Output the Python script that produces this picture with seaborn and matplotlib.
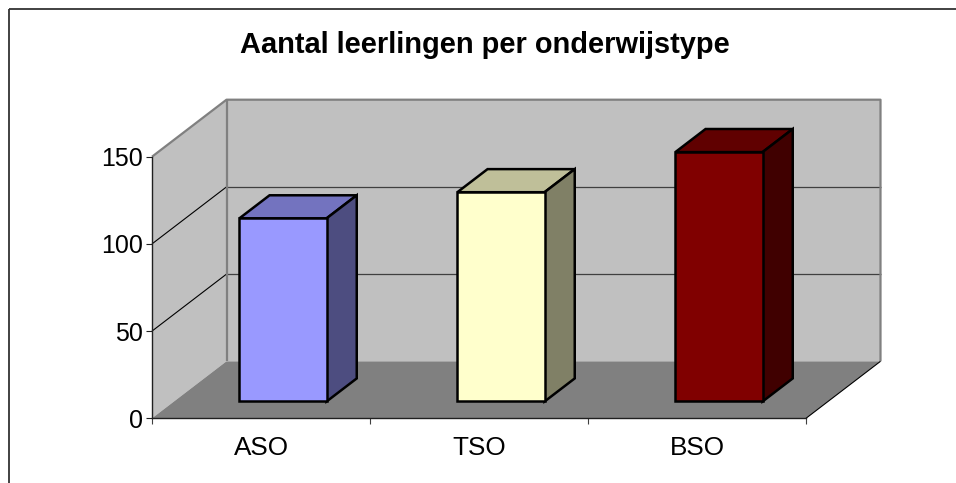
import matplotlib
matplotlib.use("Agg")
import matplotlib.pyplot as plt
import seaborn as sns
from matplotlib.lines import Line2D
from matplotlib.patches import Polygon
from matplotlib.transforms import Affine2D

categories = ["ASO", "TSO", "BSO"]
values = [105, 120, 143]
front_colors = ["#9999FF", "#FFFFCC", "#800000"]
top_colors = ["#7373BF", "#BFBF99", "#600000"]
side_colors = ["#4D4D80", "#808066", "#400000"]
y_ticks = [0, 50, 100, 150]
title = "Aantal leerlingen per onderwijstype"

sns.set_style("white")
plt.rcParams["font.family"] = ["Liberation Sans", "DejaVu Sans"]

W, H = 956, 483
fig = plt.figure(figsize=(W / 100, H / 100), dpi=100, facecolor="white")
ax = fig.add_axes([152 / W, (H - 418.3) / H, 654 / W, 261.6 / H])
ax.set_facecolor("none")

# depth of the fake 3d box, in data units
DX = 74.5 / 218
DY = 57 / 1.744
BAR_FRONT = 0.295
BAR_BACK = 0.70


def poly(pts, **kw):
    p = Polygon(pts, closed=True, clip_on=False, **kw)
    ax.add_patch(p)
    return p


def line(xs, ys, **kw):
    ax.plot(xs, ys, clip_on=False, solid_capstyle="butt", **kw)


sns.barplot(x=categories, y=values, hue=categories, palette=front_colors,
            width=0.4, saturation=1, edgecolor="black", linewidth=1.8,
            legend=False, zorder=5, ax=ax)

x0, x1 = -0.5, 2.5
y0, y1 = 0, 150
ax.set_xlim(x0, x1)
ax.set_ylim(y0, y1)

# walls and floor
poly([(x0, y0), (x0 + DX, y0 + DY), (x0 + DX, y1 + DY), (x0, y1)],
     facecolor="#C0C0C0", edgecolor="none", zorder=1)
poly([(x0 + DX, y0 + DY), (x1 + DX, y0 + DY), (x1 + DX, y1 + DY), (x0 + DX, y1 + DY)],
     facecolor="#C0C0C0", edgecolor="none", zorder=1)
poly([(x0, y0), (x1, y0), (x1 + DX, y0 + DY), (x0 + DX, y0 + DY)],
     facecolor="#808080", edgecolor="none", zorder=1)

for v in y_ticks[1:-1]:
    line([x0, x0 + DX], [v, v + DY], color="black", lw=0.8, zorder=2)
    line([x0 + DX, x1 + DX], [v + DY, v + DY], color="#404040", lw=0.9, zorder=2)

wall_edge = dict(color="#808080", lw=1.6, zorder=2)
line([x0, x0 + DX, x1 + DX, x1 + DX], [y1, y1 + DY, y1 + DY, y0 + DY], **wall_edge)
line([x0 + DX, x0 + DX], [y0 + DY, y1 + DY], **wall_edge)
line([x1, x1 + DX], [y0, y0 + DY], color="black", lw=0.8, zorder=2)

# bars: move the front face into the box and add top and side faces
move = Affine2D().translate(BAR_FRONT * DX, BAR_FRONT * DY) + ax.transData
d = BAR_BACK - BAR_FRONT
for bar, top_c, side_c in zip(ax.patches[:3], top_colors, side_colors):
    left, right = bar.get_x(), bar.get_x() + bar.get_width()
    base, height = bar.get_y(), bar.get_y() + bar.get_height()
    bar.set_transform(move)
    bar.set_clip_on(False)
    bar.set_joinstyle("miter")
    for pts, c in [
        ([(left, height), (right, height), (right + d * DX, height + d * DY), (left + d * DX, height + d * DY)], top_c),
        ([(right, base), (right + d * DX, base + d * DY), (right + d * DX, height + d * DY), (right, height)], side_c),
    ]:
        p = Polygon(pts, closed=True, facecolor=c, edgecolor="black", linewidth=1.8,
                    joinstyle="miter", transform=move, clip_on=False, zorder=4)
        ax.add_patch(p)

ax.set_yticks(y_ticks)
ax.set_xticks([0, 1, 2], categories)
ax.set_xticks([-0.5, 0.5, 1.5, 2.5], minor=True)
ax.tick_params(axis="y", length=4.3, width=0.8, color="#202020", pad=2.5,
               labelsize=18, labelcolor="black", left=True)
ax.tick_params(axis="x", which="major", length=0, pad=12.5, labelsize=18.8, labelcolor="black")
ax.tick_params(axis="x", which="minor", length=4, width=0.8, color="#404040", bottom=True)
sns.despine(ax=ax, top=True, right=True)
for side in ["left", "bottom"]:
    ax.spines[side].set_color("#202020")
    ax.spines[side].set_linewidth(1.0)
    ax.spines[side].set_zorder(3)

fig.text(485 / W, 1 - 53 / H, title, ha="center", va="baseline",
         fontsize=20.9, fontweight="bold", color="black")

# chart border, only left and top are in the picture
border = dict(color="#333333", lw=1.3, transform=fig.transFigure, solid_capstyle="butt")
fig.add_artist(Line2D([9 / W, 9 / W], [0, 1 - 9 / H], **border))
fig.add_artist(Line2D([8.5 / W, 1], [1 - 9 / H, 1 - 9 / H], **border))

fig.savefig("out.png", dpi=100, facecolor="white")
